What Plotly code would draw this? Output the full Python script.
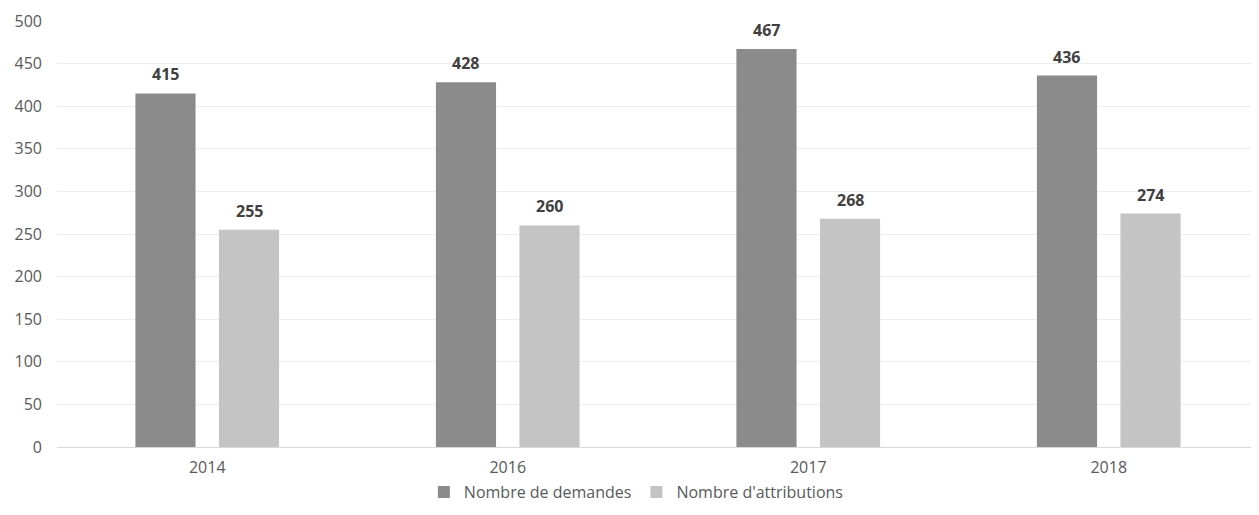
import plotly.graph_objects as go

years = ["2014", "2016", "2017", "2018"]
demandes = [415, 428, 467, 436]
attributions = [255, 260, 268, 274]
y_ticks = [0, 50, 100, 150, 200, 250, 300, 350, 400, 450, 500]

font_family = "'Open Sans', sans-serif"

fig = go.Figure()
fig.add_trace(go.Bar(
    x=years, y=demandes, name="Nombre de demandes",
    marker=dict(color="#8b8b8b", line=dict(width=0)),
))
fig.add_trace(go.Bar(
    x=years, y=attributions, name="Nombre d'attributions",
    marker=dict(color="#c4c4c4", line=dict(width=0)),
))

annotations = []
for series, shift in ((demandes, -42), (attributions, 42)):
    for i, v in enumerate(series):
        annotations.append(dict(
            x=i, y=v, xref="x", yref="y", xshift=shift, yshift=6,
            yanchor="bottom", showarrow=False,
            text=f"<b>{v}</b>",
            font=dict(family=font_family, size=16, color="#404040"),
        ))

fig.update_layout(
    width=1251, height=507,
    margin=dict(l=49, r=0, t=13, b=68),
    paper_bgcolor="white", plot_bgcolor="white",
    barmode="group", bargap=0.444, bargroupgap=0.28,
    font=dict(family=font_family, size=16, color="#595959"),
    showlegend=True,
    annotations=annotations,
    legend=dict(orientation="h", x=0.482, xanchor="center", y=-0.106, yanchor="middle",
                font=dict(size=16, color="#595959"), traceorder="normal"),
    xaxis=dict(type="category", range=[-0.5, 3.5], showgrid=False, showline=True,
               linecolor="#d9d9d9", ticks="", ticklabelstandoff=6,
               tickfont=dict(size=16, color="#595959")),
    yaxis=dict(range=[0, 500], tickvals=y_ticks, showgrid=True, gridcolor="#ededed",
               zeroline=False, showline=False, ticks="", ticklabelstandoff=14,
               tickfont=dict(size=16, color="#595959")),
)

fig.write_html("out.html")
